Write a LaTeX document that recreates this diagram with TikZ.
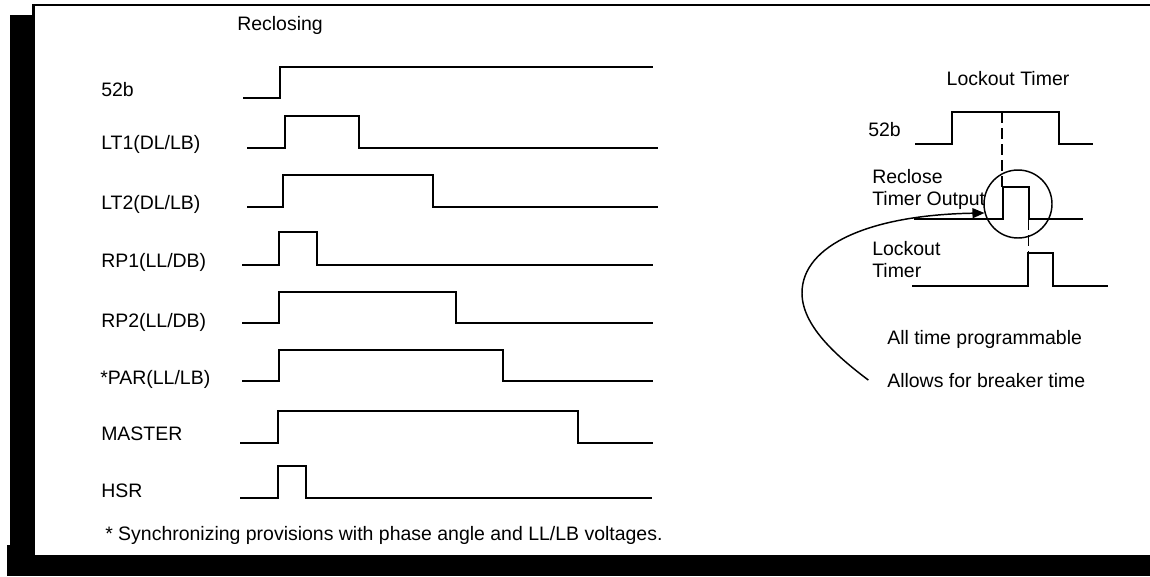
\documentclass[tikz,border=0pt]{standalone}
\usepackage{fontspec}
\setmainfont{Liberation Sans}
\usetikzlibrary{arrows.meta}

\begin{document}
\begin{tikzpicture}[x=0.75pt,y=0.75pt,yscale=-1,xscale=1,
  font=\fontsize{14.6}{17}\selectfont,
  txt/.style={anchor=base west,inner sep=0pt},
  sig/.style={line width=1.5pt,line join=miter},
  guide/.style={line width=1.2pt,dash pattern=on 8pt off 4pt}]
\useasboundingbox (0,0) rectangle (1150,576);

%Shape: Frame
\draw [line width=2pt] (33,5) -- (1150,5) ;
\fill (32,4) rectangle (35,15) ;
\fill (10,15) rectangle (35,576) ;
\fill (7,545) rectangle (35,576) ;
\fill (7,555) rectangle (1150,576) ;

% Text Node
\node [anchor=base,inner sep=0pt] (recl) at (280,30) {Reclosing};
\node [txt] (l52b) at (101,96) {52b};
\node [txt] (llt1) at (101,149) {LT1(DL/LB)};
\node [txt] (llt2) at (101,209) {LT2(DL/LB)};
\node [txt] (lrp1) at (101,267) {RP1(LL/DB)};
\node [txt] (lrp2) at (101,327) {RP2(LL/DB)};
\node [txt] (lpar) at (100,384) {*PAR(LL/LB)};
\node [txt] (lmst) at (101,440) {MASTER};
\node [txt] (lhsr) at (101,497) {HSR};
\node [txt] (note) at (105,540) {* Synchronizing provisions with phase angle and LL/LB voltages.};

%Straight Lines: reclosing signals
\draw [sig] (243,98) -- (280,98) -- (280,67) -- (653,67) ;
\draw [sig] (247,148) -- (285,148) -- (285,116) -- (359,116) -- (359,148) -- (658,148) ;
\draw [sig] (247,207) -- (283,207) -- (283,175) -- (433,175) -- (433,207) -- (658,207) ;
\draw [sig] (242,265) -- (279,265) -- (279,232) -- (317,232) -- (317,265) -- (653,265) ;
\draw [sig] (242,323) -- (279,323) -- (279,292) -- (456,292) -- (456,323) -- (653,323) ;
\draw [sig] (242,381) -- (279,381) -- (279,350) -- (503,350) -- (503,381) -- (653,381) ;
\draw [sig] (240,443) -- (278,443) -- (278,411) -- (578,411) -- (578,443) -- (653,443) ;
\draw [sig] (240,498) -- (278,498) -- (278,466) -- (306,466) -- (306,498) -- (652,498) ;

% Text Node
\node [anchor=base,inner sep=0pt] (lock) at (1008,85) {Lockout Timer};
\node [txt] (r52b) at (868,136) {52b};
\node [txt] (rrc1) at (872,183) {Reclose};
\node [txt] (rrc2) at (872,205) {Timer Output};
\node [txt] (rlk1) at (872,255) {Lockout};
\node [txt] (rlk2) at (872,277) {Timer};
\node [txt] (prog) at (887,344) {All time programmable};
\node [txt] (brk) at (887,387) {Allows for breaker time};

%Straight Lines: lockout signals
\draw [sig] (915,144) -- (952,144) -- (952,112) -- (1059,112) -- (1059,144) -- (1093,144) ;
\draw [sig] (914,219) -- (1003,219) -- (1003,187) -- (1029,187) -- (1029,219) -- (1083,219) ;
\draw [sig] (912,286) -- (1028,286) -- (1028,253) -- (1053,253) -- (1053,286) -- (1108,286) ;

\coordinate (dA) at (1002,112) ;
\coordinate (dB) at (1002,187) ;
\coordinate (dC) at (1028.5,219) ;
\coordinate (dD) at (1028.5,253) ;
\draw [guide] (dA) -- (dB) ;
\draw [guide] (dC) -- (dD) ;

%Shape: Circle
\node [draw,circle,line width=1.1pt,minimum size=51pt,inner sep=0pt] (win) at (1018,204) {} ;

%Curve Lines
\draw [line width=1.1pt,-{Triangle[length=9pt,width=7.5pt]}] ([xshift=-14pt]brk.west) .. controls (835,355) and (802,325) .. (802,293) .. controls (802,245) and (870,215) .. (win.195) ;

\end{tikzpicture}
\end{document}
